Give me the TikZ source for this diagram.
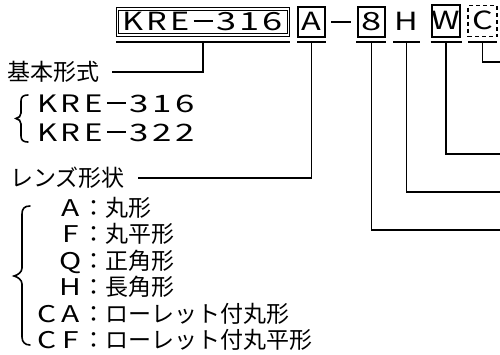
\documentclass[tikz,border=0pt]{standalone}
\usepackage{fontspec}
\usepackage{graphicx}
\setmainfont{Noto Sans CJK JP}
\newcommand{\lc}[2][23pt]{\makebox[#1]{\scalebox{1.3}[1]{#2}}}
\newcommand{\ld}[2][23pt]{\makebox[#1]{\scalebox{1.45}[1]{#2}}}
\newcommand{\ldash}[1][23pt]{\makebox[#1]{\rule[9.2pt]{19pt}{1.6pt}}}
\usetikzlibrary{calc}
\begin{document}
\begin{tikzpicture}[x=1pt,y=-1pt,
  conn/.style={line width=1.6pt},
  bracestroke/.style={line width=1.6pt, line cap=round},
  lbl/.style={inner sep=0pt, outer sep=0pt, anchor=west,
    font=\fontsize{23}{23}\selectfont, text height=20.2pt, text depth=2.8pt},
  latin/.style={font=\fontsize{25}{25}\selectfont},
  codebox/.style={draw, line width=1.6pt, inner sep=0pt, outer sep=0pt,
    minimum width=27pt, minimum height=30pt,
    font=\fontsize{25}{25}\selectfont, text height=20.7pt, text depth=2.8pt},
  kbox/.style={draw, double, line width=1pt, double distance=1.2pt,
    inner sep=0pt, outer sep=0pt, minimum width=171pt, minimum height=26pt,
    font=\fontsize{25}{25}\selectfont, text height=20.7pt, text depth=2.8pt}]
\useasboundingbox (0,0) rectangle (500,354);

% top code row
\node[kbox] (kre) at (203,22) {\lc[23.3pt]{K}\lc[23.3pt]{R}\lc[23.3pt]{E}\ldash[23.3pt]\ld[23.3pt]{3}\ld[23.3pt]{1}\ld[23.3pt]{6}};
\node[codebox] (A) at (311.5,22) {\lc{A}};
\node[codebox] (eight) at (371.5,22) {\ld{8}};
\node[codebox, draw=none] (H) at (406.5,22) {\lc{H}};
\node[codebox, line width=2.4pt, minimum width=28pt, minimum height=32pt] (W) at (446,21) {\lc{W}};
\node[codebox, dash pattern=on 4pt off 3pt, minimum width=29pt, minimum height=31pt] (C) at (482.5,21) {\lc{C}};
\draw[conn] ($(A.east)+(6,0)$) -- ($(eight.west)+(-7,0)$);

% underlines
\coordinate (ul) at (0,42);
\draw[conn] ([xshift=-1.5pt]kre.south west |- ul) -- ([xshift=1.5pt]kre.south east |- ul);
\draw[conn] ([xshift=-1pt]A.south west |- ul) -- ([xshift=1pt]A.south east |- ul);
\draw[conn] ([xshift=-2pt]eight.south west |- ul) -- ([xshift=1pt]eight.south east |- ul);
\draw[conn] (H.south west |- ul) -- (H.south east |- ul);
\draw[conn] ([xshift=-1.5pt]W.south west |- ul) -- ([xshift=1.5pt]W.south east |- ul);
\draw[conn] (C.south west |- ul) -- (C.south east |- ul);

% labels
\node[lbl] (kihon) at (7,72) {基本形式};
\node[lbl] (k316) at (36,104) {\fontsize{24}{24}\selectfont\lc{K}\lc{R}\lc{E}\ldash\ld{3}\ld{1}\ld{6}};
\node[lbl] (k322) at (36,133) {\fontsize{24}{24}\selectfont\lc{K}\lc{R}\lc{E}\ldash\ld{3}\ld{2}\ld{2}};
\node[lbl] (lens) at (10,178) {レンズ形状};
\node[lbl] (la) at (36,208) {\hspace*{23pt}\lc{A}：丸形};
\node[lbl] (lf) at (36,234) {\hspace*{23pt}\lc{F}：丸平形};
\node[lbl] (lq) at (36,260.5) {\hspace*{23pt}\lc{Q}：正角形};
\node[lbl] (lh) at (36,287) {\hspace*{23pt}\lc{H}：長角形};
\node[lbl] (lca) at (36,313.5) {\lc{C}\lc{A}：ローレット付丸形};
\node[lbl] (lcf) at (36,340) {\lc{C}\lc{F}：ローレット付丸平形};

% connectors
\coordinate (e8) at (501,230);
\coordinate (eH) at (501,192);
\coordinate (eW) at (501,154);
\coordinate (eC) at (501,62);
\draw[conn] (kre.south |- ul) |- ($(kihon.east)+(13,0)$);
\draw[conn] (A.south |- ul) |- ($(lens.east)+(13,0)$);
\draw[conn] (eight.south |- ul) |- (e8);
\draw[conn] (H.south |- ul) |- (eH);
\draw[conn] (W.south |- ul) |- (eW);
\draw[conn] (C.south |- ul) |- (eC);

% braces
\draw[bracestroke] (28,95) .. controls (23,95) and (21,97) .. (21,101) -- (21,113)
  .. controls (21,116) and (19,118) .. (16,118.5)
  .. controls (19,119) and (21,121) .. (21,124) -- (21,136)
  .. controls (21,140) and (23,142) .. (28,142);
\draw[bracestroke] (30,206) .. controls (24,206) and (22,209) .. (22,214) -- (22,268)
  .. controls (22,272) and (18,275) .. (14,276)
  .. controls (18,277) and (22,280) .. (22,284) -- (22,337)
  .. controls (22,342) and (25,345) .. (30,345);
\end{tikzpicture}
\end{document}
